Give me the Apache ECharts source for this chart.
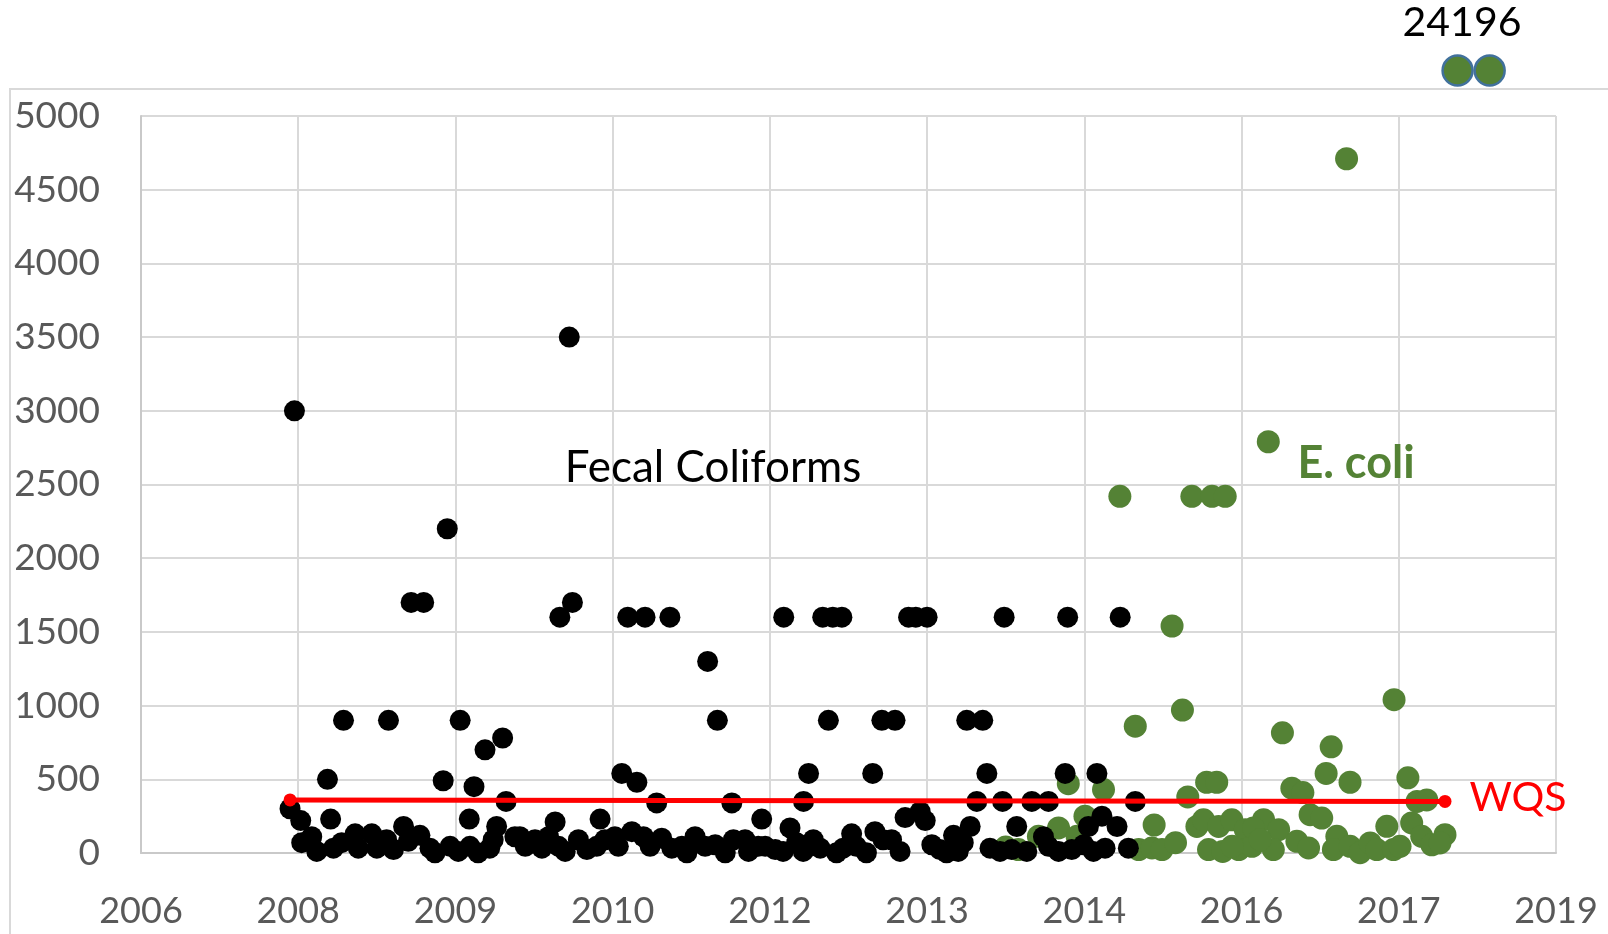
<!DOCTYPE html>
<html>
<head>
<meta charset="utf-8">
<script src="https://cdn.jsdelivr.net/npm/echarts@6/dist/echarts.min.js"></script>
<style>
  html, body { margin: 0; padding: 0; background: #ffffff; }
  #chart { width: 1608px; height: 934px; }
</style>
</head>
<body>
<div id="chart"></div>
<script>
// x values are Excel date serials (days since 1899-12-30); y values are counts per 100 mL
const xTickStart = 39000, xTickEnd = 43500, xTickStep = 500;
const yTickMax = 5000, yTickStep = 500;

const fecalColiforms = [
  [39488,3000],[40362,3500],[39974,2200],[39859,1700],[39899,1700],[40332,1600],[40372,1700],
  [40548,1600],[40603,1600],[40682,1600],[40802,1300],[41044,1600],[41168,1600],[41200,1600],
  [41229,1600],[41441,1600],[41464,1600],[41500,1600],[41745,1600],[41947,1600],[42114,1600],
  [39644,900],[39787,900],[40015,900],[40833,900],[41186,900],[41356,900],[41398,900],[41626,900],[41677,900],
  [39593,500],[39961,490],[40059,450],[40094,700],[40150,780],[40161,350],[39474,300],[39508,220],
  [39603,230],[40044,230],[40529,540],[40577,480],[40640,340],[40879,340],[40317,210],[40460,230],
  [40974,230],[41123,540],[41327,540],[41690,540],[41107,350],[41658,350],[41740,350],[41064,170],
  [41430,240],[41478,280],[41494,220],[41637,180],[41584,120],[41939,540],[42040,540],[41833,350],
  [41886,350],[42162,350],[41785,180],[41870,110],[42013,180],[42056,250],[42104,180],
  [39511,70],[39543,110],[39559,11],[39612,33],[39638,70],[39681,130],[39691,33],[39734,130],
  [39750,33],[39781,90],[39803,23],[39835,180],[39850,79],[39887,120],[39919,33],[39935,2],
  [39983,45],[40009,11],[40046,45],[40072,2],[40109,33],[40131,180],[40120,90],[40189,110],
  [40205,110],[40222,45],[40253,90],[40275,33],[40296,110],[40328,45],[40349,11],[40391,90],
  [40418,23],[40449,45],[40475,90],[40507,110],[40518,45],[40561,145],[40598,110],[40619,45],
  [40656,100],[40688,33],[40720,45],[40736,2],[40762,110],[40794,45],[40826,56],[40858,2],
  [40884,90],[40921,90],[40932,11],[40963,45],
  [40985,45],[41017,23],[41042,11],[41085,70],[41106,11],[41138,90],[41160,33],[41212,2],
  [41233,33],[41260,130],[41275,45],[41307,2],[41334,145],[41360,90],[41387,90],[41414,11],
  [41515,56],[41541,23],[41562,2],[41599,11],[41615,70],[41700,33],[41732,11],
  [41769,23],[41817,11],[41886,45],[41918,11],[41960,23],[41998,56],[42029,11],[42066,33],[42140,33]
];

const eColi = [
  [42113,2420],[42342,2420],[42406,2420],[42448,2420],[42585,2790],[42834,4710],[42279,1540],
  [42162,860],[42312,970],[42389,480],[42421,480],[42329,380],[41949,470],[42061,430],[42002,250],
  [41918,170],[42222,190],[42358,180],[42379,225],[42427,180],[42469,225],[42512,158],[42491,23],
  [42533,45],[41790,23],[41854,113],[41977,113],[42173,23],[42215,34],[42247,23],[42290,70],
  [41750,40],[42395,23],[42440,11],[42470,45],
  [42985,1040],[42630,815],[42785,720],[42769,540],[42845,480],[43029,510],[42660,440],[42695,410],
  [43058,350],[43089,360],[42718,260],[42755,237],[42570,226],[42618,158],[42538,170],[42962,181],
  [43041,204],[43147,124],[42676,79],[42713,34],[42601,23],[42559,90],[42803,113],[42792,23],
  [42845,45],[42877,2],[42909,68],[42930,23],[42983,23],[43004,45],[43073,113],[43105,56],[43131,68]
];

const eColiOutliers = [[43187,24196],[43289,24196]];
const wqs = [[39474,360],[43147,350]];

const fecalColor = '#000000';
const eColiColor = '#548235';
const wqsColor = '#ff0000';
const tickFont = 'Lato';

function serialToYear(v) {
  return new Date(Date.UTC(1899, 11, 30) + v * 86400000).getUTCFullYear();
}

const chart = echarts.init(document.getElementById('chart'), null, { renderer: 'canvas' });

chart.setOption({
  animation: false,
  backgroundColor: '#ffffff',
  grid: [
    { left: 141, right: 52, top: 116, bottom: 81 },
    { left: 141, right: 52, top: 40, height: 60 }
  ],
  xAxis: [
    {
      type: 'value', gridIndex: 0, min: xTickStart, max: xTickEnd, interval: xTickStep,
      axisLine: { show: true, lineStyle: { color: '#c9c9c9', width: 2 } },
      axisTick: { show: false },
      splitLine: { show: true, lineStyle: { color: '#d9d9d9', width: 2 } },
      axisLabel: { color: '#595959', fontFamily: tickFont, fontSize: 36, margin: 40,
        formatter: v => String(serialToYear(v)) }
    },
    { type: 'value', gridIndex: 1, min: xTickStart, max: xTickEnd, show: false }
  ],
  yAxis: [
    {
      type: 'value', gridIndex: 0, min: 0, max: yTickMax, interval: yTickStep,
      axisLine: { show: true, lineStyle: { color: '#c9c9c9', width: 2 } },
      axisTick: { show: false },
      splitLine: { show: true, lineStyle: { color: '#d9d9d9', width: 2 } },
      axisLabel: { color: '#595959', fontFamily: tickFont, fontSize: 37, margin: 41,
        formatter: v => String(v) }
    },
    { type: 'value', gridIndex: 1, min: 24000, max: 24400, show: false }
  ],
  series: [
    {
      name: 'E. coli', type: 'scatter', xAxisIndex: 0, yAxisIndex: 0, clip: false,
      symbol: 'circle', symbolSize: 23, itemStyle: { color: eColiColor, opacity: 1 },
      data: eColi, z: 2
    },
    {
      name: 'Fecal Coliforms', type: 'scatter', xAxisIndex: 0, yAxisIndex: 0, clip: false,
      symbol: 'circle', symbolSize: 21, itemStyle: { color: fecalColor, opacity: 1 },
      data: fecalColiforms, z: 3
    },
    {
      name: 'WQS', type: 'line', xAxisIndex: 0, yAxisIndex: 0, clip: false,
      symbol: 'circle', symbolSize: 13, showSymbol: true,
      lineStyle: { color: wqsColor, width: 5 }, itemStyle: { color: wqsColor },
      data: wqs, z: 4
    },
    {
      name: 'E. coli (max)', type: 'scatter', xAxisIndex: 1, yAxisIndex: 1, clip: false,
      symbol: 'circle', symbolSize: 30,
      itemStyle: { color: eColiColor, borderColor: '#41719c', borderWidth: 2.5, opacity: 1 },
      data: eColiOutliers, z: 5
    }
  ],
  graphic: [
    { type: 'rect', z: -10, silent: true,
      shape: { x: 10, y: 89, width: 1700, height: 1000 },
      style: { fill: 'none', stroke: '#d9d9d9', lineWidth: 2 } },
    { type: 'text', x: 713, y: 468, z: 10,
      style: { text: 'Fecal Coliforms', fill: '#000000', font: '44px Lato', align: 'center', verticalAlign: 'middle' } },
    { type: 'text', x: 1356, y: 463, z: 10,
      style: { text: 'E. coli', fill: eColiColor, font: 'bold 45px Lato', align: 'center', verticalAlign: 'middle' } },
    { type: 'text', x: 1518, y: 798, z: 10,
      style: { text: 'WQS', fill: wqsColor, font: '41px Lato', align: 'center', verticalAlign: 'middle' } },
    { type: 'text', x: 1462, y: 23, z: 10,
      style: { text: '24196', fill: '#000000', font: '41px Lato', align: 'center', verticalAlign: 'middle' } }
  ]
});
</script>
</body>
</html>
